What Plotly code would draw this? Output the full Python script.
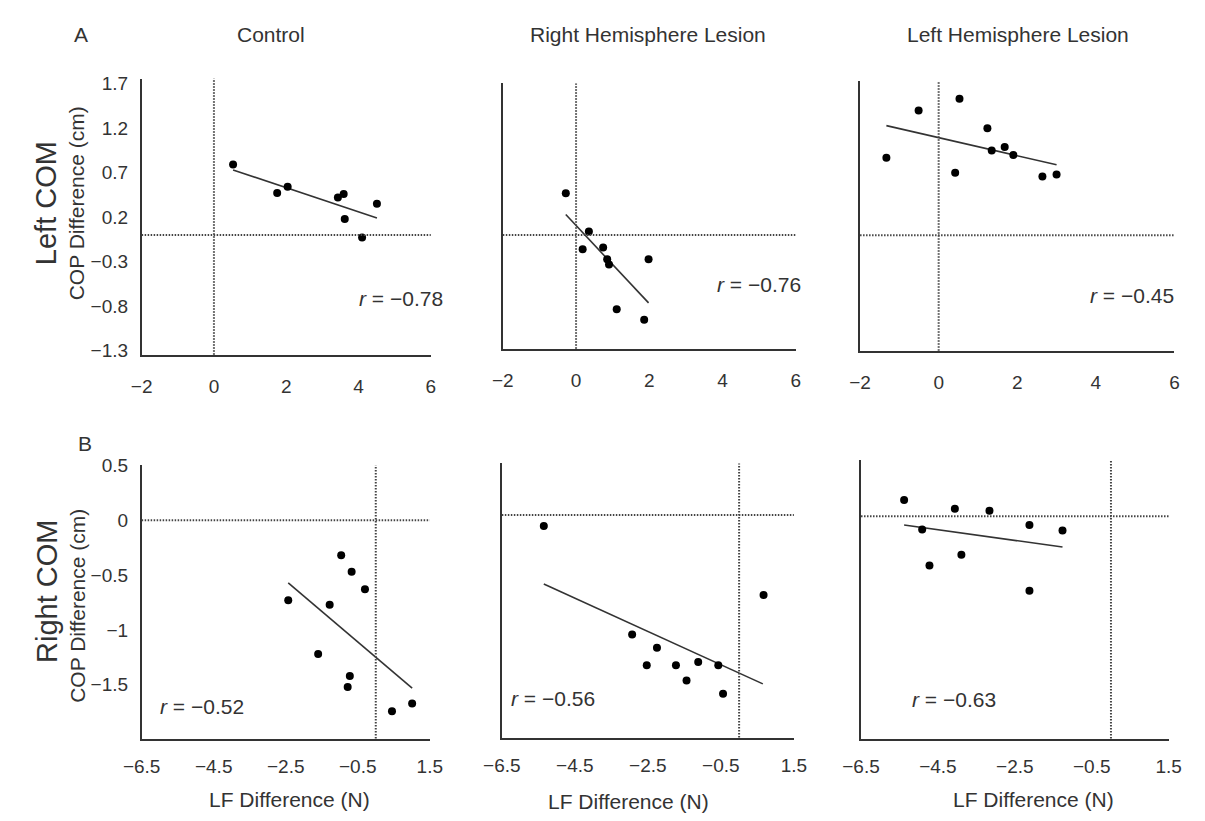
import plotly.graph_objects as go

W, H = 1205, 821

# ---------------- data ----------------
col_titles = ["Control", "Right Hemisphere Lesion", "Left Hemisphere Lesion"]
r_labels = ["−0.78", "−0.76", "−0.45", "−0.52", "−0.56", "−0.63"]

# Row A: Left COM
ctrl_L_x = [0.53, 1.75, 2.04, 3.43, 3.59, 3.62, 4.10, 4.51]
ctrl_L_y = [0.79, 0.47, 0.54, 0.42, 0.46, 0.18, -0.03, 0.35]
ctrl_L_fit_x = [0.53, 4.51]
ctrl_L_fit_y = [0.73, 0.19]

rhl_L_x = [-0.28, 0.35, 0.18, 0.74, 0.85, 0.90, 1.98, 1.11, 1.86]
rhl_L_y = [0.47, 0.04, -0.16, -0.14, -0.27, -0.33, -0.27, -0.83, -0.95]
rhl_L_fit_x = [-0.28, 1.98]
rhl_L_fit_y = [0.23, -0.76]

lhl_L_x = [-1.33, -0.51, 0.53, 0.42, 1.24, 1.35, 1.68, 1.90, 2.64, 3.00]
lhl_L_y = [0.87, 1.40, 1.53, 0.70, 1.20, 0.95, 0.99, 0.90, 0.66, 0.68]
lhl_L_fit_x = [-1.33, 3.00]
lhl_L_fit_y = [1.23, 0.79]

# Row B: Right COM
ctrl_R_x = [-2.43, -1.28, -0.96, -0.67, -0.30, -1.60, -0.72, -0.78, 0.45, 1.01]
ctrl_R_y = [-0.73, -0.77, -0.32, -0.47, -0.63, -1.22, -1.42, -1.52, -1.74, -1.67]
ctrl_R_fit_x = [-2.43, 1.01]
ctrl_R_fit_y = [-0.57, -1.53]

rhl_R_x = [-5.35, 0.67, -2.93, -2.25, -2.53, -1.73, -1.12, -0.57, -1.44, -0.44]
rhl_R_y = [-0.10, -0.73, -1.09, -1.21, -1.37, -1.37, -1.34, -1.37, -1.51, -1.63]
rhl_R_fit_x = [-5.35, 0.65]
rhl_R_fit_y = [-0.63, -1.54]

lhl_R_x = [-5.38, -4.91, -4.72, -4.06, -3.89, -3.16, -2.12, -2.12, -1.26]
lhl_R_y = [0.15, -0.12, -0.45, 0.07, -0.35, 0.05, -0.08, -0.68, -0.13]
lhl_R_fit_x = [-5.38, -1.26]
lhl_R_fit_y = [-0.08, -0.28]

top_xticks = [-2, 0, 2, 4, 6]
top_xtick_text = ["−2", "0", "2", "4", "6"]
top_yticks = [1.7, 1.2, 0.7, 0.2, -0.3, -0.8, -1.3]
top_ytick_text = ["1.7", "1.2", "0.7", "0.2", "−0.3", "−0.8", "−1.3"]
bot_xticks = [-6.5, -4.5, -2.5, -0.5, 1.5]
bot_xtick_text = ["−6.5", "−4.5", "−2.5", "−0.5", "1.5"]
bot_yticks = [0.5, 0, -0.5, -1, -1.5, -2]
bot_ytick_text = ["0.5", "0", "−0.5", "−1", "−1.5", "−2"]

series = [
    (ctrl_L_x, ctrl_L_y, ctrl_L_fit_x, ctrl_L_fit_y),
    (rhl_L_x, rhl_L_y, rhl_L_fit_x, rhl_L_fit_y),
    (lhl_L_x, lhl_L_y, lhl_L_fit_x, lhl_L_fit_y),
    (ctrl_R_x, ctrl_R_y, ctrl_R_fit_x, ctrl_R_fit_y),
    (rhl_R_x, rhl_R_y, rhl_R_fit_x, rhl_R_fit_y),
    (lhl_R_x, lhl_R_y, lhl_R_fit_x, lhl_R_fit_y),
]

# ---------------- layout geometry (pixels) ----------------
# (x0, x1, ytop, ybottom, xrange, yrange)
panels = [
    (126, 423, 70, 352, [-2, 6], [-1.344, 1.755]),
    (497, 798, 75, 346, [-2, 6], [-1.275, 1.70]),
    (864, 1187, 73, 348, [-2, 6], [-1.297, 1.725]),
    (126, 422, 465, 744, [-6.5, 1.5], [-1.99, 0.5]),
    (496, 796, 463, 743, [-6.5, 1.5], [-2.03, 0.47]),
    (865, 1181, 460, 744, [-6.5, 1.5], [-2.03, 0.51]),
]

def px(x):
    return x / W

def py(y):
    return 1 - y / H

FONT = "Liberation Sans, Arial, sans-serif"
TXT = "#333333"
LINE = "#333333"

fig = go.Figure()
layout = dict(
    width=W, height=H, autosize=False,
    margin=dict(l=0, r=0, t=0, b=0),
    paper_bgcolor="white", plot_bgcolor="white",
    showlegend=False,
    font=dict(family=FONT, color=TXT, size=19),
)
shapes = []
annotations = []

for i, (x0, x1, yt, yb, xr, yr) in enumerate(panels):
    n = i + 1
    xa = "x" if n == 1 else f"x{n}"
    ya = "y" if n == 1 else f"y{n}"
    top = i < 3
    show_y = i in (0, 3)
    xaxis = dict(
        domain=[px(x0), px(x1)], range=xr, anchor=ya,
        showline=True, linecolor=LINE, linewidth=1.5,
        showgrid=False, zeroline=False, ticks="",
        tickmode="array",
        tickvals=top_xticks if top else bot_xticks,
        ticktext=top_xtick_text if top else bot_xtick_text,
        ticklabelstandoff=14 if top else 10,
        tickfont=dict(size=19, color=TXT, family=FONT),
        fixedrange=True,
    )
    yaxis = dict(
        domain=[py(yb), py(yt)], range=yr, anchor=xa,
        showline=True, linecolor=LINE, linewidth=1.5,
        showgrid=False, zeroline=False, ticks="",
        tickmode="array",
        tickvals=(top_yticks if top else bot_yticks) if show_y else [],
        ticktext=(top_ytick_text if top else bot_ytick_text) if show_y else [],
        ticklabelstandoff=8,
        tickfont=dict(size=19, color=TXT, family=FONT),
        fixedrange=True,
    )
    layout["xaxis" if n == 1 else f"xaxis{n}"] = xaxis
    layout["yaxis" if n == 1 else f"yaxis{n}"] = yaxis

    sx, sy, fx, fy = series[i]
    fig.add_trace(go.Scatter(x=fx, y=fy, mode="lines", xaxis=xa, yaxis=ya,
                             line=dict(color=LINE, width=1.6), hoverinfo="skip"))
    fig.add_trace(go.Scatter(x=sx, y=sy, mode="markers", xaxis=xa, yaxis=ya,
                             marker=dict(color="black", size=8, symbol="circle")))

    # dotted reference lines at zero
    dot = dict(color="#444444", width=2, dash="1.5px,1.5px")
    shapes.append(dict(type="line", xref=xa, yref=f"{ya} domain", x0=0, x1=0, y0=0, y1=1, line=dot))
    shapes.append(dict(type="line", xref=f"{xa} domain", yref=ya, x0=0, x1=1, y0=0, y1=0, line=dot))

# r labels (pixel centres)
r_pos = [(392, 295), (760, 280), (1143, 292), (188, 711), (549, 703), (960, 704)]
for (cx, cy), lab in zip(r_pos, r_labels):
    annotations.append(dict(text=f"<i>r</i> = {lab}", x=px(cx), y=py(cy), xref="paper", yref="paper",
                            showarrow=False, xanchor="center", yanchor="middle",
                            font=dict(size=21, color=TXT, family=FONT)))

# column titles
for cx, t in zip([259, 646, 1026], col_titles):
    annotations.append(dict(text=t, x=px(cx), y=py(25), xref="paper", yref="paper",
                            showarrow=False, xanchor="center", yanchor="middle",
                            font=dict(size=21, color=TXT, family=FONT)))

# panel letters
annotations.append(dict(text="A", x=px(64), y=py(25), xref="paper", yref="paper", showarrow=False,
                        xanchor="center", yanchor="middle", font=dict(size=21, color=TXT, family=FONT)))
annotations.append(dict(text="B", x=px(68), y=py(443), xref="paper", yref="paper", showarrow=False,
                        xanchor="center", yanchor="middle", font=dict(size=21, color=TXT, family=FONT)))

# row labels
for cy, t in [(197, "Left COM"), (594, "Right COM")]:
    annotations.append(dict(text=t, x=px(28), y=py(cy), xref="paper", yref="paper", showarrow=False,
                            textangle=-90, xanchor="center", yanchor="middle",
                            font=dict(size=29, color=TXT, family=FONT)))
for cy in [197, 608]:
    annotations.append(dict(text="COP Difference (cm)", x=px(60), y=py(cy), xref="paper", yref="paper",
                            showarrow=False, textangle=-90, xanchor="center", yanchor="middle",
                            font=dict(size=21, color=TXT, family=FONT)))

# x titles
for cx, cy in [(278, 806), (626, 808), (1042, 806)]:
    annotations.append(dict(text="LF Difference (N)", x=px(cx), y=py(cy), xref="paper", yref="paper",
                            showarrow=False, xanchor="center", yanchor="middle",
                            font=dict(size=21, color=TXT, family=FONT)))

layout["shapes"] = shapes
layout["annotations"] = annotations
fig.update_layout(**layout)
fig.write_html(
    "out.html",
    config={"displayModeBar": False},
    post_script="document.body.style.margin='0';document.body.style.padding='0';"
                "document.documentElement.style.overflow='hidden';",
)
